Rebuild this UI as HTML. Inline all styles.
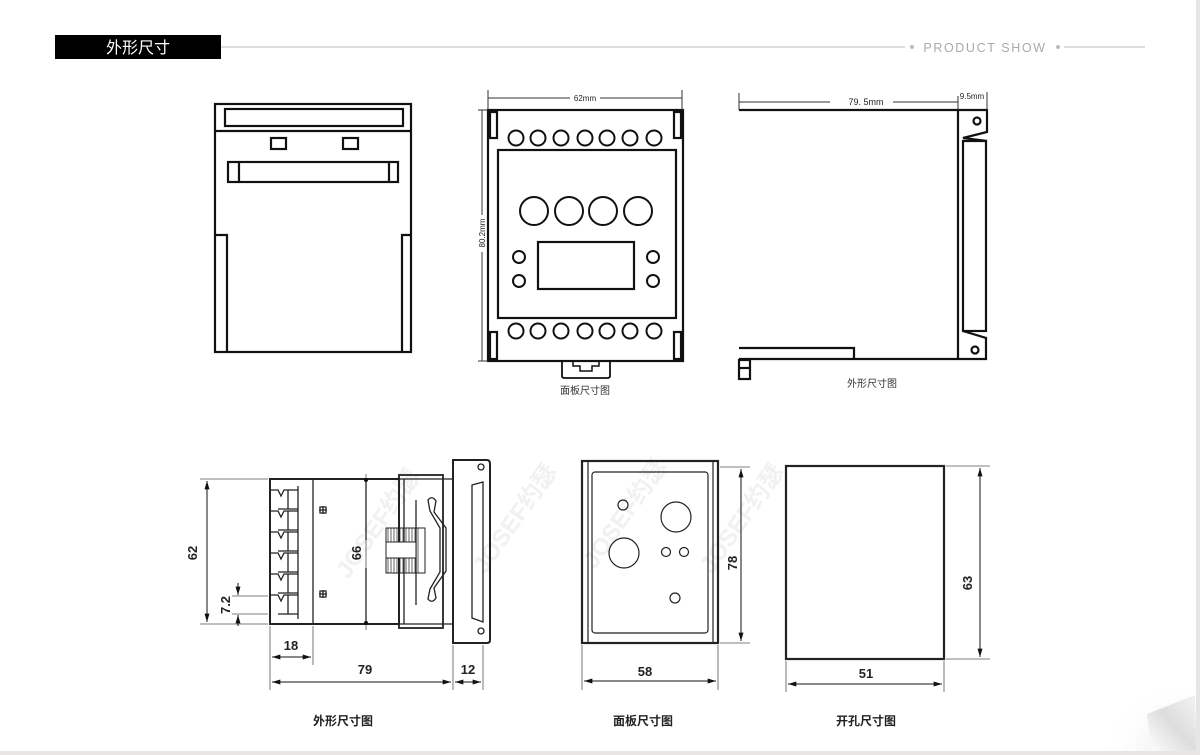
<!DOCTYPE html>
<html><head><meta charset="utf-8"><style>
html,body{margin:0;padding:0;background:#fff;}
svg{display:block}
text{font-family:"Liberation Sans","Noto Sans CJK SC",sans-serif;}
</style></head><body>
<svg width="1200" height="755" viewBox="0 0 1200 755" xmlns="http://www.w3.org/2000/svg">
<defs>
<marker id="a" viewBox="0 0 10 6" refX="10" refY="3" markerWidth="9" markerHeight="5" orient="auto-start-reverse"><path d="M0,0 L10,3 L0,6 z" fill="#111"/></marker>
<linearGradient id="curl" x1="0" y1="1" x2="1" y2="0"><stop offset="0" stop-color="#fff"/><stop offset="0.5" stop-color="#ddd"/><stop offset="1" stop-color="#f4f4f4"/></linearGradient>
<radialGradient id="sh" cx="1" cy="1" r="1"><stop offset="0" stop-color="#e4e0e0"/><stop offset="1" stop-color="#fff" stop-opacity="0"/></radialGradient>
</defs>
<rect width="1200" height="755" fill="#fff"/>
<rect x="1196" y="0" width="4" height="755" fill="#e9e5e5"/>
<rect x="0" y="751" width="1200" height="4" fill="#e9e5e5"/>
<rect x="1100" y="680" width="96" height="71" fill="url(#sh)"/>
<path d="M1147,714 Q1170,705 1195,695 L1196,751 L1152,751 Z" fill="url(#curl)"/>

<!-- header -->
<rect x="55" y="35" width="166" height="24" fill="#000"/>
<text x="138" y="53" fill="#fff" font-size="16" text-anchor="middle">外形尺寸</text>
<line x1="221" y1="47" x2="905" y2="47" stroke="#bbb" stroke-width="1"/>
<circle cx="912" cy="47" r="2" fill="#bbb"/>
<text x="985" y="52" fill="#aaa" font-size="12.5" text-anchor="middle" letter-spacing="1.6">PRODUCT SHOW</text>
<circle cx="1058" cy="47" r="2" fill="#bbb"/>
<line x1="1064" y1="47" x2="1145" y2="47" stroke="#bbb" stroke-width="1"/>

<!-- watermarks -->
<g fill="#f1f1f1" font-size="24" font-weight="bold">
<text transform="translate(348,580) rotate(-55)">JOSEF约瑟</text>
<text transform="translate(485,575) rotate(-55)">JOSEF约瑟</text>
<text transform="translate(595,570) rotate(-55)">JOSEF约瑟</text>
<text transform="translate(712,575) rotate(-55)">JOSEF约瑟</text>
</g>

<g fill="none" stroke="#111" stroke-width="2.2">
<!-- drawing 1 -->
<rect x="215" y="104" width="196" height="248"/>
<rect x="225" y="109" width="178" height="17"/>
<line x1="215" y1="131" x2="411" y2="131"/>
<rect x="271" y="138" width="15" height="11"/>
<rect x="343" y="138" width="15" height="11"/>
<rect x="228" y="162" width="170" height="20"/>
<line x1="239" y1="162" x2="239" y2="182"/>
<line x1="389" y1="162" x2="389" y2="182"/>
<polyline points="215,235 227,235 227,352"/>
<polyline points="411,235 402,235 402,352"/>

<!-- drawing 2 -->
<rect x="488" y="110" width="195" height="251"/>
<rect x="490" y="112" width="7" height="26"/>
<rect x="674" y="112" width="7" height="26"/>
<rect x="490" y="332" width="7" height="27"/>
<rect x="674" y="332" width="7" height="27"/>
<rect x="498" y="150" width="178" height="168"/>
<g stroke-width="2">
<circle cx="516" cy="138" r="7.5"/><circle cx="538" cy="138" r="7.5"/><circle cx="561" cy="138" r="7.5"/><circle cx="585" cy="138" r="7.5"/><circle cx="607" cy="138" r="7.5"/><circle cx="630" cy="138" r="7.5"/><circle cx="654" cy="138" r="7.5"/>
<circle cx="516" cy="331" r="7.5"/><circle cx="538" cy="331" r="7.5"/><circle cx="561" cy="331" r="7.5"/><circle cx="585" cy="331" r="7.5"/><circle cx="607" cy="331" r="7.5"/><circle cx="630" cy="331" r="7.5"/><circle cx="654" cy="331" r="7.5"/>
<circle cx="534" cy="211" r="14"/><circle cx="569" cy="211" r="14"/><circle cx="603" cy="211" r="14"/><circle cx="638" cy="211" r="14"/>
<circle cx="519" cy="257" r="6"/><circle cx="519" cy="281" r="6"/><circle cx="653" cy="257" r="6"/><circle cx="653" cy="281" r="6"/>
</g>
<rect x="538" y="242" width="96" height="47"/>
<path d="M562,361 L562,376 Q562,378 565,378 L607,378 Q610,378 610,376 L610,361" stroke-width="1.8"/>
<path d="M573,361 L573,366 L580,366 L580,371 L592,371 L592,366 L599,366 L599,361" stroke-width="1.5"/>
</g>
<g stroke="#333" stroke-width="1" fill="none">
<line x1="488" y1="90" x2="488" y2="110"/><line x1="682" y1="90" x2="682" y2="110"/>
<line x1="488" y1="98" x2="570" y2="98"/><line x1="600" y1="98" x2="682" y2="98"/>
<line x1="478" y1="110" x2="488" y2="110"/><line x1="478" y1="361" x2="488" y2="361"/>
<line x1="482" y1="110" x2="482" y2="215"/><line x1="482" y1="252" x2="482" y2="361"/>
</g>
<text x="585" y="101" font-size="8" text-anchor="middle" fill="#222">62mm</text>
<text transform="translate(485,233) rotate(-90)" font-size="8" text-anchor="middle" fill="#222">80.2mm</text>
<text x="585" y="394" font-size="10" text-anchor="middle" fill="#333" font-family="Noto Serif CJK SC,serif">面板尺寸图</text>

<!-- drawing 3 -->
<g fill="none" stroke="#111" stroke-width="2.2">
<polyline points="739,110 987,110 987,132 963,138 987,141"/>
<line x1="958" y1="110" x2="958" y2="359"/>
<rect x="963" y="141" width="23" height="190"/>
<polyline points="963,331 986,338 986,359 739,359"/>
<polyline points="739,348 854,348 854,359"/>
<rect x="739" y="360" width="11" height="19"/>
<line x1="739" y1="368" x2="750" y2="368"/>
<circle cx="977" cy="121" r="3.5"/><circle cx="975" cy="350" r="3.5"/>
</g>
<g stroke="#333" stroke-width="1">
<line x1="739" y1="93" x2="739" y2="110"/><line x1="987" y1="92" x2="987" y2="110"/><line x1="958" y1="96" x2="958" y2="110"/>
<line x1="739" y1="102" x2="830" y2="102"/><line x1="893" y1="102" x2="958" y2="102"/>
</g>
<text x="866" y="105" font-size="9" text-anchor="middle" fill="#222">79. 5mm</text>
<text x="972" y="99" font-size="8" text-anchor="middle" fill="#222">9.5mm</text>
<text x="872" y="387" font-size="10" text-anchor="middle" fill="#333" font-family="Noto Serif CJK SC,serif">外形尺寸图</text>

<!-- bottom-left drawing -->
<g fill="none" stroke="#222" stroke-width="1.3">
<rect x="270" y="479" width="129" height="145" stroke-width="2"/>
<line x1="313" y1="479" x2="313" y2="624"/>
<line x1="298" y1="486" x2="298" y2="619"/>
<g id="term"><path d="M270,490 L278,490 L281,496 L284,490 L298,490 M288,490 L288,509 M278,509 L298,509"/></g>
<use href="#term" y="21"/><use href="#term" y="42"/><use href="#term" y="63"/><use href="#term" y="84"/><use href="#term" y="105"/>
<path d="M319,510 h8 M323,506 v8 M320,507 h6 v6 h-6 z"/>
<path d="M319,594 h8 M323,590 v8 M320,591 h6 v6 h-6 z"/>
<rect x="399" y="475" width="44" height="153" stroke-width="1.8"/>
<line x1="399" y1="479" x2="453" y2="479"/><line x1="399" y1="624" x2="453" y2="624"/>
<line x1="404" y1="479" x2="404" y2="624"/><line x1="416" y1="500" x2="416" y2="605"/>
<path d="M428,500 Q432,495 436,501 L434,512 L446,528 L446,571 L434,588 L436,598 Q432,604 428,599 L430,589 L440,572 L440,528 L430,511 Z"/>
<rect x="386" y="528" width="39" height="45" stroke-width="1"/>
<g stroke-width="0.7"><line x1="388" y1="528" x2="388" y2="573"/><line x1="391" y1="528" x2="391" y2="573"/><line x1="394" y1="528" x2="394" y2="573"/><line x1="397" y1="528" x2="397" y2="573"/><line x1="400" y1="528" x2="400" y2="573"/><line x1="403" y1="528" x2="403" y2="573"/><line x1="406" y1="528" x2="406" y2="573"/><line x1="409" y1="528" x2="409" y2="573"/><line x1="412" y1="528" x2="412" y2="573"/><line x1="415" y1="528" x2="415" y2="573"/><line x1="418" y1="528" x2="418" y2="573"/></g>
<rect x="386" y="542" width="30" height="16" fill="#fff" stroke-width="1"/>
<path d="M453,460 L487,460 Q490,460 490,464 L490,640 Q490,643 487,643 L453,643 Z" stroke-width="2"/>
<path d="M472,485 L483,482 L483,622 L472,618 Z" stroke-width="1.3"/>
<circle cx="481" cy="467" r="3"/><circle cx="481" cy="631" r="3"/>
</g>
<g stroke="#555" stroke-width="0.8" fill="none">
<line x1="200" y1="479" x2="268" y2="479"/><line x1="200" y1="624" x2="268" y2="624"/>
<line x1="232" y1="596" x2="268" y2="596"/><line x1="232" y1="614" x2="268" y2="614"/>
<line x1="270" y1="626" x2="270" y2="690"/><line x1="313" y1="626" x2="313" y2="665"/>
<line x1="453" y1="645" x2="453" y2="690"/><line x1="483" y1="645" x2="483" y2="690"/>
<line x1="366" y1="474" x2="366" y2="630"/>
</g>
<g stroke="#111" stroke-width="1" fill="none">
<line x1="207" y1="481" x2="207" y2="622" marker-start="url(#a)" marker-end="url(#a)"/>
<line x1="238" y1="583" x2="238" y2="595" marker-end="url(#a)"/>
<line x1="238" y1="626" x2="238" y2="615" marker-end="url(#a)"/>
<line x1="272" y1="657" x2="311" y2="657" marker-start="url(#a)" marker-end="url(#a)"/>
<line x1="272" y1="682" x2="451" y2="682" marker-start="url(#a)" marker-end="url(#a)"/>
<line x1="455" y1="682" x2="481" y2="682" marker-start="url(#a)" marker-end="url(#a)"/>
<line x1="366" y1="479" x2="366" y2="540" stroke-width="1.2"/><line x1="366" y1="568" x2="366" y2="624" stroke-width="1.2"/>
</g>
<circle cx="366" cy="480" r="2" fill="#111"/><circle cx="366" cy="623" r="2" fill="#111"/>
<g font-size="13" font-weight="bold" fill="#222" text-anchor="middle">
<text transform="translate(197,553) rotate(-90)">62</text>
<text transform="translate(230,605) rotate(-90)">7.2</text>
<text transform="translate(361,553) rotate(-90)">66</text>
<text x="291" y="650">18</text>
<text x="365" y="674">79</text>
<text x="468" y="674">12</text>
<text transform="translate(737,563) rotate(-90)">78</text>
<text x="645" y="676">58</text>
<text transform="translate(972,583) rotate(-90)">63</text>
<text x="866" y="678">51</text>
</g>

<!-- panel -->
<g fill="none" stroke="#222">
<rect x="582" y="461" width="136" height="182" stroke-width="2.2"/>
<rect x="592" y="472" width="116" height="161" rx="3" stroke-width="1.2"/>
<line x1="588" y1="461" x2="588" y2="643" stroke-width="1.2"/>
<line x1="713" y1="461" x2="713" y2="643" stroke-width="1.2"/>
<g stroke-width="1.2">
<circle cx="623" cy="505" r="5"/><circle cx="676" cy="517" r="15"/><circle cx="624" cy="553" r="15"/>
<circle cx="666" cy="552" r="4.5"/><circle cx="684" cy="552" r="4.5"/><circle cx="675" cy="598" r="5"/>
</g>
<rect x="786" y="466" width="158" height="193" stroke-width="2.2"/>
</g>
<g stroke="#555" stroke-width="0.8">
<line x1="720" y1="467" x2="750" y2="467"/><line x1="720" y1="643" x2="750" y2="643"/>
<line x1="582" y1="645" x2="582" y2="690"/><line x1="718" y1="645" x2="718" y2="690"/>
<line x1="946" y1="466" x2="990" y2="466"/><line x1="946" y1="659" x2="990" y2="659"/>
<line x1="786" y1="661" x2="786" y2="692"/><line x1="944" y1="661" x2="944" y2="692"/>
</g>
<g stroke="#111" stroke-width="1">
<line x1="741" y1="469" x2="741" y2="641" marker-start="url(#a)" marker-end="url(#a)"/>
<line x1="584" y1="681" x2="716" y2="681" marker-start="url(#a)" marker-end="url(#a)"/>
<line x1="980" y1="468" x2="980" y2="657" marker-start="url(#a)" marker-end="url(#a)"/>
<line x1="788" y1="684" x2="942" y2="684" marker-start="url(#a)" marker-end="url(#a)"/>
</g>
<g font-size="12" font-weight="bold" fill="#222" text-anchor="middle">
<text x="343" y="725">外形尺寸图</text>
<text x="643" y="725">面板尺寸图</text>
<text x="866" y="725">开孔尺寸图</text>
</g>
</svg>
</body></html>
